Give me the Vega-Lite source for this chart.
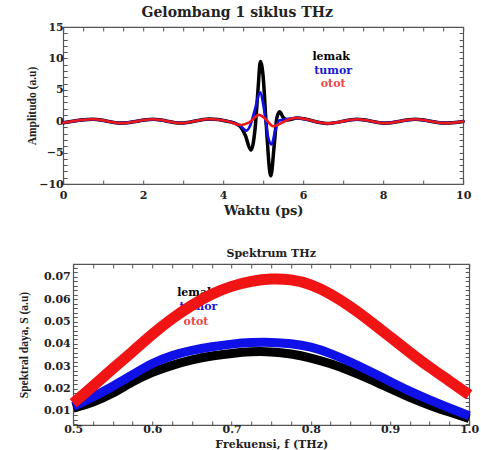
{
  "$schema": "https://vega.github.io/schema/vega-lite/v6.json",
  "padding": {"left": 17, "top": 5, "right": 2, "bottom": 0},
  "background": "white",
  "center": true,
  "config": {
    "view": {"stroke": "#555", "strokeWidth": 1.2},
    "axis": {"grid": false, "domain": false, "tickColor": "#555", "tickSize": -4, "labelOverlap": false, "labelFlush": false, "labelColor": "#222", "titleColor": "#222"}
  },
  "datasets": {
    "wave": [
      {"s": "lemak", "t": 0, "A": -0.25}, {"s": "lemak", "t": 0.75, "A": 0.3}, {"s": "lemak", "t": 1.45, "A": -0.3}, {"s": "lemak", "t": 2.25, "A": 0.3}, {"s": "lemak", "t": 2.95, "A": -0.3}, {"s": "lemak", "t": 3.65, "A": 0.35},
      {"s": "lemak", "t": 4.1, "A": 0.0}, {"s": "lemak", "t": 4.4, "A": -0.7}, {"s": "lemak", "t": 4.55, "A": -2.2}, {"s": "lemak", "t": 4.69, "A": -4.6}, {"s": "lemak", "t": 4.8, "A": -1.0}, {"s": "lemak", "t": 4.87, "A": 5.0}, {"s": "lemak", "t": 4.93, "A": 9.5}, {"s": "lemak", "t": 5.0, "A": 7.0}, {"s": "lemak", "t": 5.07, "A": 0.0}, {"s": "lemak", "t": 5.19, "A": -8.7}, {"s": "lemak", "t": 5.28, "A": -3.5}, {"s": "lemak", "t": 5.34, "A": 0.5}, {"s": "lemak", "t": 5.41, "A": 1.5}, {"s": "lemak", "t": 5.5, "A": 0.6}, {"s": "lemak", "t": 5.6, "A": 0.2},
      {"s": "lemak", "t": 5.85, "A": 0.5}, {"s": "lemak", "t": 6.6, "A": -0.35}, {"s": "lemak", "t": 7.35, "A": 0.3}, {"s": "lemak", "t": 8.05, "A": -0.3}, {"s": "lemak", "t": 8.8, "A": 0.3}, {"s": "lemak", "t": 9.55, "A": -0.3}, {"s": "lemak", "t": 10, "A": -0.05},
      {"s": "tumor", "t": 0, "A": -0.25}, {"s": "tumor", "t": 0.75, "A": 0.3}, {"s": "tumor", "t": 1.45, "A": -0.3}, {"s": "tumor", "t": 2.25, "A": 0.3}, {"s": "tumor", "t": 2.95, "A": -0.3}, {"s": "tumor", "t": 3.65, "A": 0.35},
      {"s": "tumor", "t": 4.1, "A": 0.0}, {"s": "tumor", "t": 4.4, "A": -0.6}, {"s": "tumor", "t": 4.58, "A": -1.5}, {"s": "tumor", "t": 4.68, "A": -0.6}, {"s": "tumor", "t": 4.8, "A": 2.0}, {"s": "tumor", "t": 4.92, "A": 4.6}, {"s": "tumor", "t": 5.02, "A": 2.0}, {"s": "tumor", "t": 5.12, "A": -2.5}, {"s": "tumor", "t": 5.21, "A": -3.7}, {"s": "tumor", "t": 5.3, "A": -1.5}, {"s": "tumor", "t": 5.4, "A": 0.1}, {"s": "tumor", "t": 5.55, "A": 0.3},
      {"s": "tumor", "t": 5.85, "A": 0.5}, {"s": "tumor", "t": 6.6, "A": -0.35}, {"s": "tumor", "t": 7.35, "A": 0.3}, {"s": "tumor", "t": 8.05, "A": -0.3}, {"s": "tumor", "t": 8.8, "A": 0.3}, {"s": "tumor", "t": 9.55, "A": -0.3}, {"s": "tumor", "t": 10, "A": -0.05},
      {"s": "otot", "t": 0, "A": -0.25}, {"s": "otot", "t": 0.75, "A": 0.3}, {"s": "otot", "t": 1.45, "A": -0.3}, {"s": "otot", "t": 2.25, "A": 0.3}, {"s": "otot", "t": 2.95, "A": -0.3}, {"s": "otot", "t": 3.65, "A": 0.35},
      {"s": "otot", "t": 4.1, "A": 0.0}, {"s": "otot", "t": 4.45, "A": -0.6}, {"s": "otot", "t": 4.65, "A": -0.2}, {"s": "otot", "t": 4.9, "A": 1.0}, {"s": "otot", "t": 5.05, "A": 0.4}, {"s": "otot", "t": 5.25, "A": -0.8}, {"s": "otot", "t": 5.45, "A": -0.3}, {"s": "otot", "t": 5.65, "A": 0.3},
      {"s": "otot", "t": 5.85, "A": 0.5}, {"s": "otot", "t": 6.6, "A": -0.35}, {"s": "otot", "t": 7.35, "A": 0.3}, {"s": "otot", "t": 8.05, "A": -0.3}, {"s": "otot", "t": 8.8, "A": 0.3}, {"s": "otot", "t": 9.55, "A": -0.3}, {"s": "otot", "t": 10, "A": -0.05}
    ],
    "spec": [
      {"s": "otot", "f": 0.5, "S": 0.0135}, {"s": "otot", "f": 0.525, "S": 0.021}, {"s": "otot", "f": 0.55, "S": 0.029}, {"s": "otot", "f": 0.575, "S": 0.0365}, {"s": "otot", "f": 0.6, "S": 0.0445}, {"s": "otot", "f": 0.625, "S": 0.0515}, {"s": "otot", "f": 0.65, "S": 0.0575}, {"s": "otot", "f": 0.675, "S": 0.0625}, {"s": "otot", "f": 0.7, "S": 0.066}, {"s": "otot", "f": 0.725, "S": 0.0682}, {"s": "otot", "f": 0.75, "S": 0.0693}, {"s": "otot", "f": 0.775, "S": 0.069}, {"s": "otot", "f": 0.8, "S": 0.0668}, {"s": "otot", "f": 0.825, "S": 0.0625}, {"s": "otot", "f": 0.85, "S": 0.0568}, {"s": "otot", "f": 0.875, "S": 0.0502}, {"s": "otot", "f": 0.9, "S": 0.0432}, {"s": "otot", "f": 0.925, "S": 0.0362}, {"s": "otot", "f": 0.95, "S": 0.0295}, {"s": "otot", "f": 0.975, "S": 0.0235}, {"s": "otot", "f": 1.0, "S": 0.0172},
      {"s": "tumor", "f": 0.5, "S": 0.012}, {"s": "tumor", "f": 0.525, "S": 0.0162}, {"s": "tumor", "f": 0.55, "S": 0.021}, {"s": "tumor", "f": 0.575, "S": 0.0262}, {"s": "tumor", "f": 0.6, "S": 0.0315}, {"s": "tumor", "f": 0.625, "S": 0.035}, {"s": "tumor", "f": 0.65, "S": 0.0372}, {"s": "tumor", "f": 0.675, "S": 0.0388}, {"s": "tumor", "f": 0.7, "S": 0.04}, {"s": "tumor", "f": 0.725, "S": 0.0407}, {"s": "tumor", "f": 0.75, "S": 0.0408}, {"s": "tumor", "f": 0.775, "S": 0.0402}, {"s": "tumor", "f": 0.8, "S": 0.0388}, {"s": "tumor", "f": 0.825, "S": 0.0358}, {"s": "tumor", "f": 0.85, "S": 0.032}, {"s": "tumor", "f": 0.875, "S": 0.0277}, {"s": "tumor", "f": 0.9, "S": 0.0232}, {"s": "tumor", "f": 0.925, "S": 0.0188}, {"s": "tumor", "f": 0.95, "S": 0.0149}, {"s": "tumor", "f": 0.975, "S": 0.0113}, {"s": "tumor", "f": 1.0, "S": 0.0078},
      {"s": "lemak", "f": 0.5, "S": 0.0112}, {"s": "lemak", "f": 0.525, "S": 0.0138}, {"s": "lemak", "f": 0.55, "S": 0.0178}, {"s": "lemak", "f": 0.575, "S": 0.0232}, {"s": "lemak", "f": 0.6, "S": 0.0275}, {"s": "lemak", "f": 0.625, "S": 0.0305}, {"s": "lemak", "f": 0.65, "S": 0.033}, {"s": "lemak", "f": 0.675, "S": 0.0347}, {"s": "lemak", "f": 0.7, "S": 0.0358}, {"s": "lemak", "f": 0.725, "S": 0.0366}, {"s": "lemak", "f": 0.75, "S": 0.0366}, {"s": "lemak", "f": 0.775, "S": 0.0356}, {"s": "lemak", "f": 0.8, "S": 0.0338}, {"s": "lemak", "f": 0.825, "S": 0.0312}, {"s": "lemak", "f": 0.85, "S": 0.028}, {"s": "lemak", "f": 0.875, "S": 0.0242}, {"s": "lemak", "f": 0.9, "S": 0.02}, {"s": "lemak", "f": 0.925, "S": 0.016}, {"s": "lemak", "f": 0.95, "S": 0.0125}, {"s": "lemak", "f": 0.975, "S": 0.0095}, {"s": "lemak", "f": 1.0, "S": 0.0066}
    ],
    "lab1": [
      {"s": "lemak", "x": 6.7, "y": 10.2}, {"s": "tumor", "x": 6.75, "y": 8.0}, {"s": "otot", "x": 6.75, "y": 5.9}
    ],
    "lab2": [
      {"s": "lemak", "x": 0.655, "y": 0.0628}, {"s": "tumor", "x": 0.658, "y": 0.0567}, {"s": "otot", "x": 0.655, "y": 0.05}
    ]
  },
  "vconcat": [
    {
      "width": 400,
      "height": 157,
      "title": {"text": "Gelombang 1 siklus THz", "font": "DejaVu Serif", "fontSize": 14, "fontWeight": "bold", "color": "#222", "dx": -26, "offset": 1, "frame": "group"},
      "layer": [
        {
          "data": {"name": "wave"},
          "transform": [{"filter": "datum.s === 'lemak'"}],
          "mark": {"type": "line", "color": "#000000", "strokeWidth": 3.5, "interpolate": "monotone", "strokeCap": "round", "strokeJoin": "round"},
          "encoding": {
            "x": {"field": "t", "type": "quantitative", "scale": {"domain": [0, 10], "nice": false, "zero": false},
              "axis": {"orient": "bottom", "values": [0,0.5,1,1.5,2,2.5,3,3.5,4,4.5,5,5.5,6,6.5,7,7.5,8,8.5,9,9.5,10], "format": "d", "labelExpr": "datum.value % 2 === 0 ? datum.label : ''", "labelFont": "DejaVu Serif", "labelFontWeight": "bold", "labelFontSize": 11, "labelPadding": 9, "title": "Waktu  (ps)", "titleFont": "DejaVu Serif", "titleFontSize": 13, "titleFontWeight": "bold", "titlePadding": 4}},
            "y": {"field": "A", "type": "quantitative", "scale": {"domain": [-10, 15], "nice": false, "zero": false},
              "axis": {"orient": "left", "values": [-10,-9,-8,-7,-6,-5,-4,-3,-2,-1,0,1,2,3,4,5,6,7,8,9,10,11,12,13,14,15], "format": "d", "labelExpr": "datum.value % 5 === 0 ? datum.label : ''", "labelFont": "DejaVu Serif", "labelFontWeight": "bold", "labelFontSize": 11, "labelPadding": 4, "title": "Amplitudo (a.u)", "titleFont": "Liberation Serif", "titleFontSize": 11.5, "titleFontWeight": "bold", "titlePadding": 1}}
          }
        },
        {
          "data": {"name": "wave"},
          "transform": [{"filter": "datum.s === 'tumor'"}],
          "mark": {"type": "line", "color": "#1010e0", "strokeWidth": 2.7, "interpolate": "monotone", "strokeCap": "round", "strokeJoin": "round"},
          "encoding": {
            "x": {"field": "t", "type": "quantitative", "axis": null},
            "y": {"field": "A", "type": "quantitative", "axis": null}
          }
        },
        {
          "data": {"name": "wave"},
          "transform": [{"filter": "datum.s === 'otot'"}],
          "mark": {"type": "line", "color": "#ee1818", "strokeWidth": 2.6, "interpolate": "monotone", "strokeCap": "round", "strokeJoin": "round"},
          "encoding": {
            "x": {"field": "t", "type": "quantitative", "axis": null},
            "y": {"field": "A", "type": "quantitative", "axis": null}
          }
        },
        {
          "data": {"name": "lab1"},
          "mark": {"type": "text", "font": "DejaVu Serif", "fontSize": 11, "fontWeight": "bold", "align": "center", "baseline": "middle"},
          "encoding": {
            "x": {"field": "x", "type": "quantitative", "axis": {"orient": "top", "values": [0,0.5,1,1.5,2,2.5,3,3.5,4,4.5,5,5.5,6,6.5,7,7.5,8,8.5,9,9.5,10], "labels": false, "title": null, "minExtent": 0, "maxExtent": 0, "labelPadding": 0}},
            "y": {"field": "y", "type": "quantitative", "axis": {"orient": "right", "values": [-10,-9,-8,-7,-6,-5,-4,-3,-2,-1,0,1,2,3,4,5,6,7,8,9,10,11,12,13,14,15], "labels": false, "title": null, "minExtent": 38, "maxExtent": 38, "labelPadding": 0}},
            "text": {"field": "s", "type": "nominal"},
            "color": {"field": "s", "type": "nominal", "scale": {"domain": ["lemak", "tumor", "otot"], "range": ["#000000", "#1a1ad8", "#e84848"]}, "legend": null}
          }
        }
      ],
      "resolve": {"axis": {"x": "independent", "y": "independent"}}
    },
    {
      "width": 396,
      "height": 161,
      "title": {"text": "Spektrum THz", "font": "DejaVu Serif", "fontSize": 11, "fontWeight": "bold", "color": "#222", "offset": -2, "frame": "group"},
      "layer": [
        {
          "data": {"name": "lab2"},
          "mark": {"type": "text", "font": "DejaVu Serif", "fontSize": 11, "fontWeight": "bold", "align": "center", "baseline": "middle"},
          "encoding": {
            "x": {"field": "x", "type": "quantitative", "scale": {"domain": [0.5, 1.0], "nice": false, "zero": false},
              "axis": {"orient": "top", "values": [0.5,0.525,0.55,0.575,0.6,0.625,0.65,0.675,0.7,0.725,0.75,0.775,0.8,0.825,0.85,0.875,0.9,0.925,0.95,0.975,1.0], "labels": false, "title": null, "minExtent": 0, "maxExtent": 0, "labelPadding": 0}},
            "y": {"field": "y", "type": "quantitative", "scale": {"domain": [0.0037, 0.0758], "nice": false, "zero": false},
              "axis": {"orient": "right", "values": [0.004,0.006,0.008,0.01,0.012,0.014,0.016,0.018,0.02,0.022,0.024,0.026,0.028,0.03,0.032,0.034,0.036,0.038,0.04,0.042,0.044,0.046,0.048,0.05,0.052,0.054,0.056,0.058,0.06,0.062,0.064,0.066,0.068,0.07,0.072,0.074], "labels": false, "title": null, "minExtent": 0, "maxExtent": 0, "labelPadding": 0}},
            "text": {"field": "s", "type": "nominal"},
            "color": {"field": "s", "type": "nominal", "scale": {"domain": ["lemak", "tumor", "otot"], "range": ["#000000", "#2020d0", "#e04848"]}, "legend": null}
          }
        },
        {
          "data": {"name": "spec"},
          "transform": [{"filter": "datum.s === 'lemak'"}],
          "mark": {"type": "line", "color": "#000000", "strokeWidth": 9, "interpolate": "basis", "strokeCap": "butt"},
          "encoding": {
            "x": {"field": "f", "type": "quantitative",
              "axis": {"orient": "bottom", "values": [0.5,0.525,0.55,0.575,0.6,0.625,0.65,0.675,0.7,0.725,0.75,0.775,0.8,0.825,0.85,0.875,0.9,0.925,0.95,0.975,1.0], "format": ".1f", "labelExpr": "abs(datum.value*10 - round(datum.value*10)) < 0.001 ? datum.label : ''", "labelFont": "DejaVu Serif", "labelFontWeight": "bold", "labelFontSize": 11, "labelPadding": 2, "title": "Frekuensi, f (THz)", "titleFont": "DejaVu Serif", "titleFontSize": 11, "titleFontWeight": "bold", "titlePadding": 4}},
            "y": {"field": "S", "type": "quantitative",
              "axis": {"orient": "left", "values": [0.004,0.006,0.008,0.01,0.012,0.014,0.016,0.018,0.02,0.022,0.024,0.026,0.028,0.03,0.032,0.034,0.036,0.038,0.04,0.042,0.044,0.046,0.048,0.05,0.052,0.054,0.056,0.058,0.06,0.062,0.064,0.066,0.068,0.07,0.072,0.074], "format": ".2f", "labelExpr": "abs(datum.value*100 - round(datum.value*100)) < 0.001 ? datum.label : ''", "labelFont": "DejaVu Serif", "labelFontWeight": "bold", "labelFontSize": 11, "labelPadding": 7, "title": "Spektral daya, S (a.u)", "titleFont": "Liberation Serif", "titleFontSize": 11.5, "titleFontWeight": "bold", "titlePadding": 14}}
          }
        },
        {
          "data": {"name": "spec"},
          "transform": [{"filter": "datum.s === 'tumor'"}],
          "mark": {"type": "line", "color": "#1010e8", "strokeWidth": 9, "interpolate": "basis", "strokeCap": "butt"},
          "encoding": {
            "x": {"field": "f", "type": "quantitative", "axis": null},
            "y": {"field": "S", "type": "quantitative", "axis": null}
          }
        },
        {
          "data": {"name": "spec"},
          "transform": [{"filter": "datum.s === 'otot'"}],
          "mark": {"type": "line", "color": "#f01414", "strokeWidth": 11, "interpolate": "basis", "strokeCap": "butt"},
          "encoding": {
            "x": {"field": "f", "type": "quantitative", "axis": null},
            "y": {"field": "S", "type": "quantitative", "axis": null}
          }
        }
      ],
      "resolve": {"axis": {"x": "independent", "y": "independent"}}
    }
  ],
  "spacing": 29
}
